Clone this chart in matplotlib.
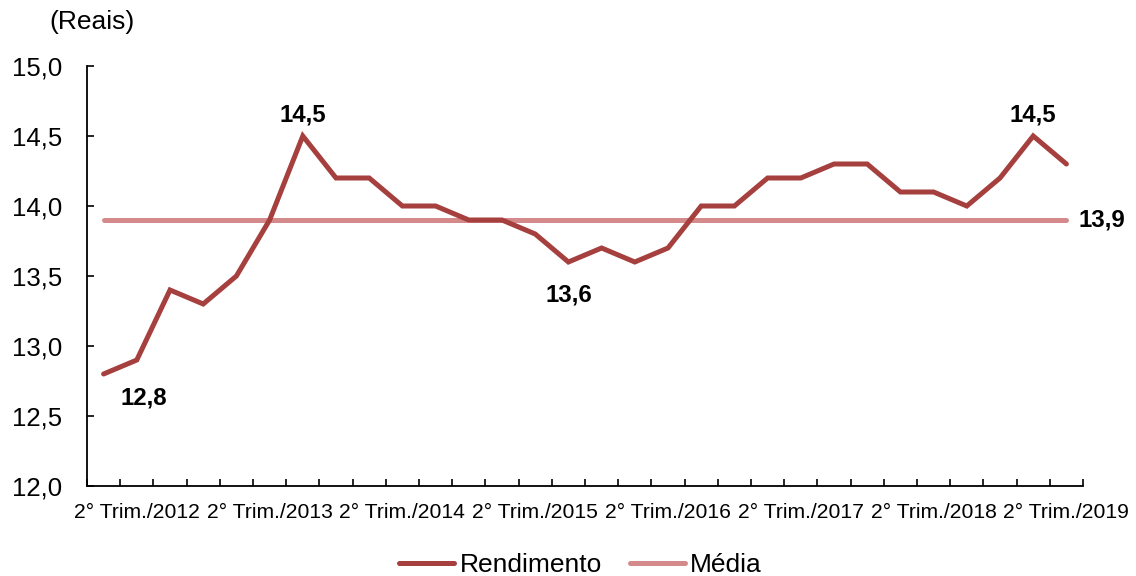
import matplotlib
matplotlib.use("Agg")
import matplotlib.pyplot as plt
import numpy as np

plt.rcParams['font.family'] = ['Liberation Sans', 'DejaVu Sans']

quarters = [f"{q}° Trim./{y}" for y in range(2012, 2020) for q in range(1, 5)][:30]
rendimento = [12.8, 12.9, 13.4, 13.3, 13.5, 13.9, 14.5, 14.2, 14.2, 14.0,
              14.0, 13.9, 13.9, 13.8, 13.6, 13.7, 13.6, 13.7, 14.0, 14.0,
              14.2, 14.2, 14.3, 14.3, 14.1, 14.1, 14.0, 14.2, 14.5, 14.3]
media = [13.9] * len(rendimento)
label_idx = [1, 5, 9, 13, 17, 21, 25, 29]
yticks = [12.0, 12.5, 13.0, 13.5, 14.0, 14.5, 15.0]

c_rend = '#A5403E'
c_med = '#D48A8A'

fig = plt.figure(figsize=(11.36, 5.76), dpi=100)
ax = fig.add_axes([87/1136, 90/576, (1083-87)/1136, (486-66)/576])

x = np.arange(len(rendimento))
ax.plot(x, rendimento, color=c_rend, lw=3.6, label='Rendimento',
        solid_joinstyle='miter', solid_capstyle='round', zorder=3)
ax.plot(x, media, color=c_med, lw=3.6, label='Média', solid_capstyle='round', zorder=2)

ax.set_xlim(-0.5, len(rendimento) - 0.5)
ax.set_ylim(12.0, 15.0)
ax.set_yticks(yticks)
ax.set_yticklabels([f"{v:.1f}".replace('.', ',') for v in yticks], fontsize=18.5)
ax.set_xticks(label_idx)
ax.set_xticklabels([quarters[i] for i in label_idx], fontsize=15.2)
ax.set_xticks(np.arange(-0.5, len(rendimento)), minor=True)
ax.tick_params(axis='x', which='major', length=0, pad=12)
ax.tick_params(axis='x', which='minor', direction='in', length=5, width=1.2)
ax.tick_params(axis='y', direction='in', length=5, width=1.2, pad=18)

for s in ['top', 'right']:
    ax.spines[s].set_visible(False)
for s in ['left', 'bottom']:
    ax.spines[s].set_linewidth(1.3)

bold = dict(fontsize=17.3, fontweight='bold', ha='center', va='center')
ax.annotate(f"{rendimento[0]:.1f}".replace('.', ','), xy=(0, rendimento[0]),
            xytext=(29, -17), textcoords='offset points', **bold)
ax.annotate(f"{rendimento[6]:.1f}".replace('.', ','), xy=(6, rendimento[6]),
            xytext=(0, 15), textcoords='offset points', **bold)
ax.annotate(f"{rendimento[14]:.1f}".replace('.', ','), xy=(14, rendimento[14]),
            xytext=(0, -24), textcoords='offset points', **bold)
ax.annotate(f"{rendimento[28]:.1f}".replace('.', ','), xy=(28, rendimento[28]),
            xytext=(0, 15), textcoords='offset points', **bold)
ax.annotate(f"{media[-1]:.1f}".replace('.', ','), xy=(len(media) - 1, media[-1]),
            xytext=(9, 0), textcoords='offset points', fontsize=17.3, fontweight='bold',
            ha='left', va='center')

fig.text(49/1136, 1 - 22/576, '(Reais)', fontsize=19, ha='left', va='center')

fig.legend(loc='center', bbox_to_anchor=(0.511, 0.019), ncol=2, frameon=False,
           fontsize=19, handlelength=2.1, handletextpad=0.2, columnspacing=1.05)

fig.savefig('out.png', dpi=100)
